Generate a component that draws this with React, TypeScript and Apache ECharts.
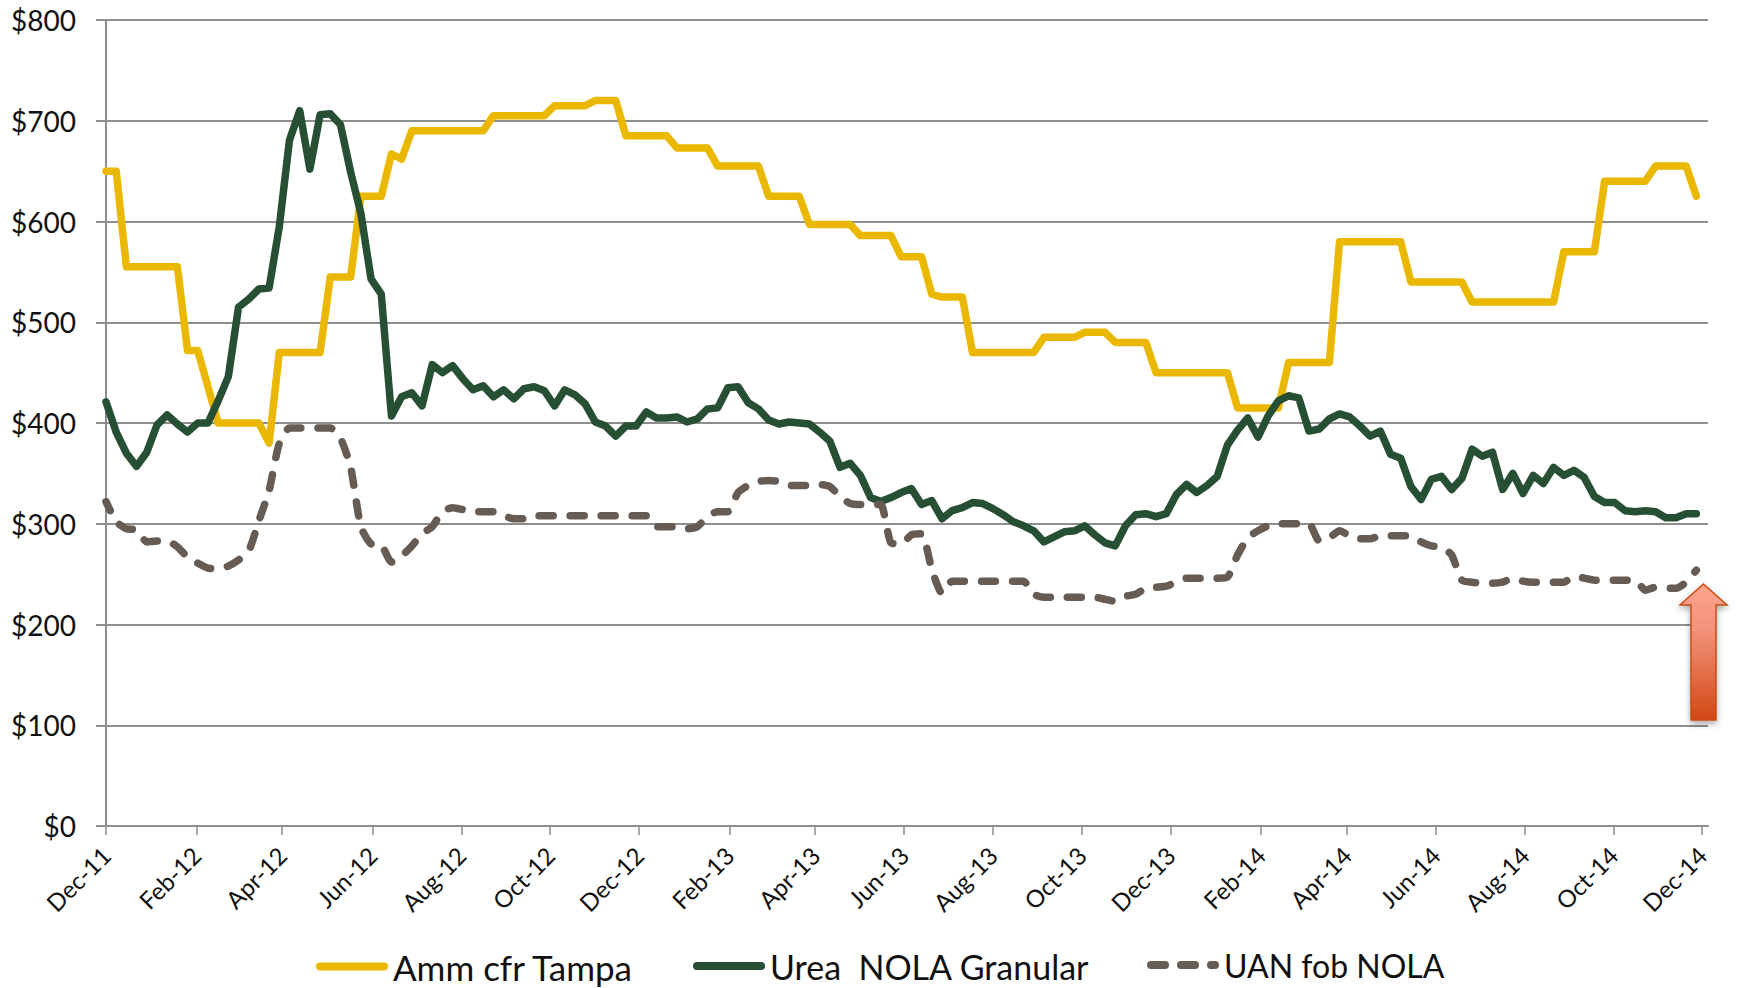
import React, { useEffect, useRef } from "react";
import * as echarts from "echarts";

const weekDays = 7;
const ammCfrTampa = [
  650, 650, 555, 555, 555, 555, 555, 555, 472, 472, 436, 400, 400, 400, 400, 400, 380, 470, 470, 470,
  470, 470, 545, 545, 545, 625, 625, 625, 667, 662, 690, 690, 690, 690, 690, 690, 690, 690, 705, 705,
  705, 705, 705, 705, 715, 715, 715, 715, 720, 720, 720, 685, 685, 685, 685, 685, 673, 673, 673, 673,
  655, 655, 655, 655, 655, 625, 625, 625, 625, 597, 597, 597, 597, 597, 586, 586, 586, 586, 565, 565,
  565, 528, 525, 525, 525, 470, 470, 470, 470, 470, 470, 470, 485, 485, 485, 485, 490, 490, 490, 480,
  480, 480, 480, 450, 450, 450, 450, 450, 450, 450, 450, 415, 415, 415, 415, 415, 460, 460, 460, 460,
  460, 580, 580, 580, 580, 580, 580, 580, 540, 540, 540, 540, 540, 540, 520, 520, 520, 520, 520, 520,
  520, 520, 520, 570, 570, 570, 570, 640, 640, 640, 640, 640, 655, 655, 655, 655, 625,
];
const ureaNola = [
  421, 391, 370, 357, 371, 398, 408, 399, 391, 400, 400, 422, 446, 515, 523, 533, 534, 595, 681, 710,
  652, 706, 707, 696, 649, 608, 543, 528, 407, 426, 430, 417, 458, 450, 457, 444, 433, 437, 426, 433,
  424, 434, 436, 432, 417, 433, 428, 419, 401, 397, 387, 397, 397, 411, 405, 405, 406, 401, 404, 414,
  415, 435, 436, 420, 414, 403, 399, 401, 400, 399, 391, 382, 356, 360, 348, 326, 322, 326, 331, 335,
  319, 323, 305, 313, 316, 321, 320, 315, 309, 302, 298, 293, 282, 287, 292, 293, 298, 289, 281, 278,
  298, 309, 310, 307, 310, 329, 339, 331, 338, 347, 378, 393, 405, 386, 407, 422, 427, 425, 392, 394,
  404, 409, 406, 397, 387, 392, 369, 365, 337, 324, 344, 347, 334, 345, 374, 367, 371, 334, 350, 330,
  348, 340, 356, 348, 353, 346, 327, 321, 321, 313, 312, 313, 312, 306, 306, 310, 310,
];
const uanNola = [
  322, 302, 295, 294, 282, 283, 283, 277, 267, 261, 256, 255, 258, 264, 273, 303, 333, 380, 395, 395,
  395, 395, 395, 385, 356, 297, 280, 279, 262, 268, 278, 290, 297, 312, 316, 314, 312, 312, 312, 308,
  305, 305, 308, 308, 308, 308, 308, 308, 308, 308, 308, 308, 308, 308, 297, 297, 297, 295, 297, 307,
  312, 312, 331, 338, 342, 343, 342, 338, 338, 338, 339, 337, 327, 320, 319, 319, 319, 281, 280, 289,
  290, 255, 231, 243, 243, 243, 243, 243, 243, 243, 243, 230, 227, 227, 227, 227, 227, 227, 225, 223,
  228, 230, 236, 237, 238, 242, 246, 246, 246, 246, 247, 269, 286, 293, 298, 300, 300, 300, 300, 283,
  286, 293, 288, 285, 285, 288, 288, 288, 288, 282, 278, 277, 269, 244, 242, 241, 241, 242, 246, 243,
  242, 242, 242, 242, 248, 246, 244, 244, 244, 244, 244, 234, 237, 236, 236, 242, 254,
];
const tickLabels = [
  "Dec-11", "Feb-12", "Apr-12", "Jun-12", "Aug-12", "Oct-12", "Dec-12", "Feb-13", "Apr-13", "Jun-13",
  "Aug-13", "Oct-13", "Dec-13", "Feb-14", "Apr-14", "Jun-14", "Aug-14", "Oct-14", "Dec-14",
];
const tickDays = [0, 62, 121, 183, 244, 305, 366, 428, 487, 548, 609, 670, 731, 793, 852, 913, 974, 1035, 1096];

const FONT = "Lato";
const toPoints = (values: number[]) => values.map((v, i) => [i * weekDays, v]);

const SOLID_ICON = "path://M4 0H68A4 4 0 0 1 68 8H4A4 4 0 0 1 4 0Z";
const DASH_ICON =
  "path://M4 0H18A4 4 0 0 1 18 8H4A4 4 0 0 1 4 0ZM34 0H48A4 4 0 0 1 48 8H34A4 4 0 0 1 34 0ZM64 0H68A4 4 0 0 1 68 8H64A4 4 0 0 1 64 0Z";

const legendItem = (name: string, icon: string, left: number, fontSize: number) => ({
  left,
  top: 949,
  padding: 0,
  itemWidth: 72,
  itemHeight: 8,
  textStyle: { fontFamily: FONT, fontSize, color: "#111111" },
  data: [{ name, icon }],
});

export default function App() {
  const ref = useRef<HTMLDivElement>(null);
  useEffect(() => {
    document.body.style.margin = "0";
    const chart = echarts.init(ref.current!, undefined, { renderer: "svg" });
    const grey = "#8e8e8e";
    chart.setOption({
      animation: false,
      backgroundColor: "#ffffff",
      grid: { left: 106, right: 29, top: 20, bottom: 162, containLabel: false },
      legend: [
        legendItem("Amm cfr Tampa", SOLID_ICON, 316, 35),
        legendItem("Urea  NOLA Granular", SOLID_ICON, 693, 34),
        legendItem("UAN fob NOLA", DASH_ICON, 1147, 32),
      ],
      xAxis: {
        type: "value",
        min: 0,
        max: 1100,
        splitLine: { show: false },
        axisLine: { show: true, lineStyle: { color: grey, width: 2 } },
        axisTick: { show: true, length: 9, customValues: tickDays, lineStyle: { color: grey, width: 1.5 } },
        axisLabel: {
          customValues: tickDays,
          rotate: 45,
          margin: 25,
          fontFamily: FONT,
          fontSize: 24,
          color: "#111111",
          formatter: (v: number) => tickLabels[tickDays.indexOf(v)] ?? "",
        },
      },
      yAxis: {
        type: "value",
        min: 0,
        max: 800,
        interval: 100,
        axisLine: { show: true, lineStyle: { color: grey, width: 2 } },
        axisTick: { show: true, length: 10, lineStyle: { color: grey, width: 2 } },
        splitLine: { show: true, lineStyle: { color: grey, width: 2 } },
        axisLabel: {
          margin: 30,
          fontFamily: FONT,
          fontSize: 28,
          color: "#111111",
          formatter: (v: number) => "$" + v,
        },
      },
      series: [
        {
          name: "Amm cfr Tampa",
          type: "line",
          showSymbol: false,
          symbol: "none",
          clip: false,
          data: toPoints(ammCfrTampa),
          itemStyle: { color: "#eab800" },
          lineStyle: { color: "#eab800", width: 7.5, cap: "round", join: "round" },
        },
        {
          name: "Urea  NOLA Granular",
          type: "line",
          showSymbol: false,
          symbol: "none",
          clip: false,
          data: toPoints(ureaNola),
          itemStyle: { color: "#264f33" },
          lineStyle: { color: "#264f33", width: 7.5, cap: "round", join: "round" },
        },
        {
          name: "UAN fob NOLA",
          type: "line",
          showSymbol: false,
          symbol: "none",
          clip: false,
          smooth: 0.2,
          data: toPoints(uanNola),
          itemStyle: { color: "#675c53" },
          lineStyle: { color: "#675c53", width: 7.5, type: [14, 17], dashOffset: 4, cap: "round", join: "round" },
        },
      ],
      graphic: [
        {
          type: "polygon",
          z: 100,
          shape: {
            points: [
              [1703.5, 584], [1727, 605], [1716, 605], [1716, 720], [1691, 720], [1691, 605], [1680, 605],
            ],
          },
          style: {
            fill: new echarts.graphic.LinearGradient(0, 0, 0, 1, [
              { offset: 0, color: "#ffa48e" },
              { offset: 0.35, color: "#f29178" },
              { offset: 1, color: "#d24714" },
            ]),
            stroke: "#c94c16",
            lineWidth: 1.5,
            shadowBlur: 6,
            shadowOffsetY: 3,
            shadowColor: "rgba(0,0,0,0.35)",
          },
        },
      ],
    });
    return () => chart.dispose();
  }, []);
  return <div ref={ref} style={{ position: "absolute", left: 0, top: 0, width: 1737, height: 988 }} />;
}
